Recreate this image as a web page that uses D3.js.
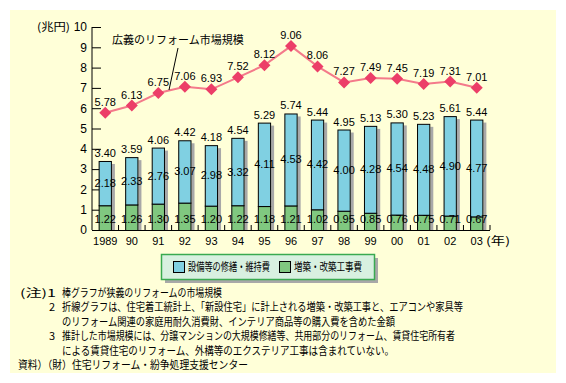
<!DOCTYPE html>
<html>
<head>
<meta charset="utf-8">
<script src="https://cdn.jsdelivr.net/npm/d3@7"></script>
<style>
  body { margin: 0; background: #fff; }
  svg { display: block; }
  text { font-family: "Liberation Sans", "Noto Sans CJK JP", sans-serif; fill: #000; }
  .jp { font-family: "Noto Sans CJK JP", sans-serif; }
</style>
</head>
<body>
<svg id="chart" width="566" height="383"></svg>
<script>
const years = ["1989", "90", "91", "92", "93", "94", "95", "96", "97", "98", "99", "00", "01", "02", "03"];
// broad reform market (line)
const broadTotal = [5.78, 6.13, 6.75, 7.06, 6.93, 7.52, 8.12, 9.06, 8.06, 7.27, 7.49, 7.45, 7.19, 7.31, 7.01];
// narrow reform market (bar total)
const narrowTotal = [3.40, 3.59, 4.06, 4.42, 4.18, 4.54, 5.29, 5.74, 5.44, 4.95, 5.13, 5.30, 5.23, 5.61, 5.44];
// 設備等の修繕・維持費
const repairCost = [2.18, 2.33, 2.76, 3.07, 2.98, 3.32, 4.11, 4.53, 4.42, 4.00, 4.28, 4.54, 4.48, 4.90, 4.77];
// 増築・改築工事費
const extensionCost = [1.22, 1.26, 1.30, 1.35, 1.20, 1.22, 1.18, 1.21, 1.02, 0.95, 0.85, 0.76, 0.75, 0.71, 0.67];
const yTicks = [0, 1, 2, 3, 4, 5, 6, 7, 8, 9, 10];
const notes = [
  ["(注)1", "棒グラフが狭義のリフォームの市場規模"],
  ["2", "折線グラフは、住宅着工統計上、「新設住宅」に計上される増築・改築工事と、エアコンや家具等"],
  ["", "のリフォーム関連の家庭用耐久消費財、インテリア商品等の購入費を含めた金額"],
  ["3", "推計した市場規模には、分譲マンションの大規模修繕等、共用部分のリフォーム、賃貸住宅所有者"],
  ["", "による賃貸住宅のリフォーム、外構等のエクステリア工事は含まれていない。"]
];
const source = "資料）（財）住宅リフォーム・紛争処理支援センター";

const blue = "#80d0e2", green = "#80c880";

const svg = d3.select("#chart");

// pale yellow panel
svg.append("rect")
    .attr("x", 10).attr("y", 10)
    .attr("width", 546).attr("height", 363)
    .attr("fill", "#ffffd8");

const x = d3.scaleBand()
    .domain(years)
    .range([92, 490])
    .paddingInner(0.5)
    .paddingOuter(0.25);

const y = d3.scaleLinear()
    .domain([0, 10])
    .range([230, 27]);

const rows = years.map((yr, i) => ({
    year: yr, green: extensionCost[i], blue: repairCost[i],
    total: narrowTotal[i], broad: broadTotal[i]
}));

// y axis
svg.append("line")
    .attr("x1", 92).attr("x2", 92)
    .attr("y1", y(10)).attr("y2", y(0))
    .attr("stroke", "#000");
svg.append("g").selectAll("line")
    .data(yTicks.slice(1))
    .enter().append("line")
    .attr("x1", 92).attr("x2", 101)
    .attr("y1", d => y(d) + 0.5).attr("y2", d => y(d) + 0.5)
    .attr("stroke", "#000");
svg.append("g").selectAll("text")
    .data(yTicks)
    .enter().append("text")
    .attr("x", 87)
    .attr("y", d => y(d))
    .attr("dy", "0.36em")
    .attr("text-anchor", "end")
    .style("font-size", "12px")
    .text(d => d);
svg.append("text")
    .attr("class", "jp")
    .attr("x", 37).attr("y", y(10))
    .attr("dy", "0.36em")
    .attr("textLength", 33)
    .attr("lengthAdjust", "spacingAndGlyphs")
    .style("font-size", "11px")
    .text("(兆円)");

// bar shadows
svg.append("g").selectAll("rect")
    .data(rows)
    .enter().append("rect")
    .attr("x", d => x(d.year) + x.bandwidth())
    .attr("y", d => y(d.total) + 3)
    .attr("width", 3)
    .attr("height", d => y(0) - y(d.total) - 3)
    .attr("fill", "#a8a8a8");

// stacked bars
svg.append("g").selectAll("rect")
    .data(rows)
    .enter().append("rect")
    .attr("x", d => x(d.year) + 0.5)
    .attr("y", d => y(d.green) + 0.5)
    .attr("width", x.bandwidth() - 1)
    .attr("height", d => y(0) - y(d.green))
    .attr("fill", green)
    .attr("stroke", "#000");
svg.append("g").selectAll("rect")
    .data(rows)
    .enter().append("rect")
    .attr("x", d => x(d.year) + 0.5)
    .attr("y", d => y(d.total) + 0.5)
    .attr("width", x.bandwidth() - 1)
    .attr("height", d => y(d.green) - y(d.total))
    .attr("fill", blue)
    .attr("stroke", "#000");

// baseline with tick marks at category edges
svg.append("line")
    .attr("x1", 92).attr("x2", 490)
    .attr("y1", y(0) + 0.5).attr("y2", y(0) + 0.5)
    .attr("stroke", "#000");
svg.append("g").selectAll("line")
    .data(years)
    .enter().append("line")
    .attr("x1", d => x(d) + x.bandwidth() / 2 + x.step() / 2)
    .attr("x2", d => x(d) + x.bandwidth() / 2 + x.step() / 2)
    .attr("y1", y(0) - 5).attr("y2", y(0))
    .attr("stroke", "#000");

// year labels
svg.append("g").selectAll("text")
    .data(years)
    .enter().append("text")
    .attr("x", d => x(d) + x.bandwidth() / 2)
    .attr("y", 241)
    .attr("dy", "0.36em")
    .attr("text-anchor", "middle")
    .style("font-size", "11px")
    .text(d => d);
svg.append("text")
    .attr("class", "jp")
    .attr("x", 486).attr("y", 241)
    .attr("dy", "0.36em")
    .attr("textLength", 24)
    .attr("lengthAdjust", "spacingAndGlyphs")
    .style("font-size", "11px")
    .text("(年)");

// bar value labels
const barLabels = svg.append("g").style("font-size", "11px").attr("text-anchor", "middle");
barLabels.selectAll(".tot")
    .data(rows)
    .enter().append("text")
    .attr("x", d => x(d.year) + x.bandwidth() / 2)
    .attr("y", d => y(d.total) - 4)
    .text(d => d.total.toFixed(2));
barLabels.selectAll(".blu")
    .data(rows)
    .enter().append("text")
    .attr("x", d => x(d.year) + x.bandwidth() / 2)
    .attr("y", d => y(d.green + d.blue / 2) + 4)
    .text(d => d.blue.toFixed(2));
barLabels.selectAll(".grn")
    .data(rows)
    .enter().append("text")
    .attr("x", d => x(d.year) + x.bandwidth() / 2)
    .attr("y", 223)
    .text(d => d.green.toFixed(2));

// broad market line
const line = d3.line()
    .x(d => x(d.year) + x.bandwidth() / 2)
    .y(d => y(d.broad));
svg.append("path")
    .datum(rows)
    .attr("d", line)
    .attr("fill", "none")
    .attr("stroke", "#f47a8a")
    .attr("stroke-width", 2);
svg.append("g").selectAll("path")
    .data(rows)
    .enter().append("path")
    .attr("transform", d => "translate(" + (x(d.year) + x.bandwidth() / 2) + "," + y(d.broad) + ")")
    .attr("d", "M0,-6L6,0L0,6L-6,0Z")
    .attr("fill", "#ec3e68");
svg.append("g").selectAll("text")
    .data(rows)
    .enter().append("text")
    .attr("x", d => x(d.year) + x.bandwidth() / 2)
    .attr("y", d => y(d.broad) - 7)
    .attr("text-anchor", "middle")
    .style("font-size", "11px")
    .text(d => d.broad.toFixed(2));

// line annotation
svg.append("text")
    .attr("class", "jp")
    .attr("x", 112).attr("y", 40)
    .attr("dy", "0.36em")
    .style("font-size", "11px")
    .text("広義のリフォーム市場規模");
svg.append("line")
    .attr("x1", 178).attr("y1", 48)
    .attr("x2", 169).attr("y2", 90)
    .attr("stroke", "#000");

// legend
const legend = svg.append("g").attr("transform", "translate(161,254)");
legend.append("rect")
    .attr("x", 4).attr("y", 4)
    .attr("width", 213).attr("height", 25)
    .attr("fill", "#a8a8a8");
legend.append("rect")
    .attr("x", 0.5).attr("y", 0.5)
    .attr("width", 213).attr("height", 25)
    .attr("fill", "#d8f0e0")
    .attr("stroke", "#3aaa50")
    .attr("stroke-width", 1.5);
const legendItems = [["設備等の修繕・維持費", blue, 12, 82], ["増築・改築工事費", green, 118, 68]];
legendItems.forEach(([label, color, lx, lw]) => {
    legend.append("rect")
        .attr("x", lx + 0.5).attr("y", 7.5)
        .attr("width", 11).attr("height", 11)
        .attr("fill", color)
        .attr("stroke", "#000");
    legend.append("text")
        .attr("class", "jp")
        .attr("x", lx + 15).attr("y", 13)
        .attr("dy", "0.36em")
        .attr("textLength", lw)
        .attr("lengthAdjust", "spacingAndGlyphs")
        .style("font-size", "11.5px")
        .text(label);
});

// notes
const noteWidths = [160, 401, 333, 393, 332];
const notesG = svg.append("g").style("font-size", "11px");
notes.forEach(([head, body], i) => {
    const ny = 293 + i * 14.4;
    if (head) {
        notesG.append("text")
            .attr("class", "jp")
            .attr("x", i === 0 ? 20 : 49).attr("y", ny)
            .attr("dy", "0.36em")
            .attr("textLength", i === 0 ? 36 : null)
            .attr("lengthAdjust", "spacingAndGlyphs")
            .text(head);
    }
    notesG.append("text")
        .attr("class", "jp")
        .attr("x", 62).attr("y", ny)
        .attr("dy", "0.36em")
        .attr("textLength", noteWidths[i])
        .attr("lengthAdjust", "spacingAndGlyphs")
        .text(body);
});
svg.append("text")
    .attr("class", "jp")
    .attr("x", 18).attr("y", 293 + 5 * 14.4)
    .attr("dy", "0.36em")
    .attr("textLength", 230)
    .attr("lengthAdjust", "spacingAndGlyphs")
    .style("font-size", "11px")
    .text(source);
</script>
</body>
</html>
